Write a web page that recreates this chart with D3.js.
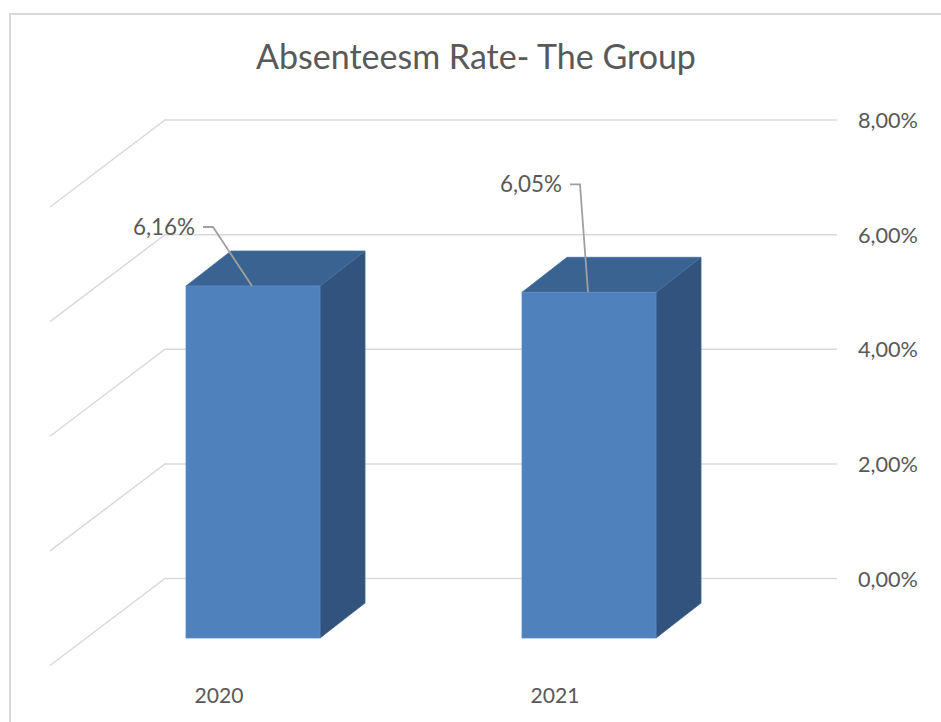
<!DOCTYPE html>
<html>
<head>
<meta charset="utf-8">
<script src="https://cdn.jsdelivr.net/npm/d3@7"></script>
<style>
  html, body { margin: 0; padding: 0; background: #fff; }
  svg { display: block; }
  text { font-family: Lato, "Open Sans", sans-serif; fill: #595959; }
</style>
</head>
<body>
<svg id="chart" width="941" height="722"></svg>
<script>
// ---- data ----
const title = "Absenteesm Rate- The Group";
const categories = ["2020", "2021"];
const values = [6.16, 6.05];          // percent
const valueLabels = ["6,16%", "6,05%"];
const yTicks = [0, 2, 4, 6, 8];
const yTickLabels = ["0,00%", "2,00%", "4,00%", "6,00%", "8,00%"];

// ---- layout ----
const svg = d3.select("#chart");
const W = 941, H = 722;

// chart border (top and left only visible)
svg.append("path")
  .attr("d", `M10,${H} L10,14 L${W},14`)
  .attr("fill", "none").attr("stroke", "#d9d9d9").attr("stroke-width", 2);

function fitText(sel, targetWidth, startSize) {
  sel.style("font-size", startSize + "px");
  const w = sel.node().getComputedTextLength();
  sel.style("font-size", (startSize * targetWidth / w) + "px");
}

// title
const t = svg.append("text").attr("x", 476).attr("y", 69)
  .attr("text-anchor", "middle").text(title);
fitText(t, 440, 32);

// back wall scale
const yWall = d3.scaleLinear().domain([0, 8]).range([578.5, 120]);
const wallX0 = 165, wallX1 = 837;
const sideDx = -115, sideDy = 87;

// gridlines: back wall + side wall
const grid = svg.append("g").attr("stroke", "#d9d9d9").attr("stroke-width", 1.5).attr("fill", "none");
grid.selectAll("path").data(yTicks).join("path")
  .attr("d", d => {
    const y = yWall(d);
    return `M${wallX0 + sideDx},${y + sideDy} L${wallX0},${y} L${wallX1},${y}`;
  });

// y axis labels (right)
svg.append("g").selectAll("text").data(yTicks).join("text")
  .attr("x", 858).attr("y", d => yWall(d) + 8)
  .text((d, i) => yTickLabels[i])
  .each(function () { fitText(d3.select(this), 60, 20); });

// bars (front-face scale)
const yFront = d3.scaleLinear().domain([0, 8]).range([638, 638 - 8 * 57.14]);
const xCenter = d3.scalePoint().domain(categories).range([253, 589]);
const barW = 134, dDx = 45, dDy = -35;

const bars = svg.append("g");
categories.forEach((c, i) => {
  const xl = xCenter(c) - barW / 2, xr = xCenter(c) + barW / 2;
  const yt = yFront(values[i]), yb = yFront(0);
  const g = bars.append("g");
  // side face
  g.append("path")
    .attr("d", `M${xr},${yt} L${xr + dDx},${yt + dDy} L${xr + dDx},${yb + dDy} L${xr},${yb} Z`)
    .attr("fill", "#31537d").attr("stroke", "#3d6494").attr("stroke-width", 0.8);
  // top face
  g.append("path")
    .attr("d", `M${xl},${yt} L${xl + dDx},${yt + dDy} L${xr + dDx},${yt + dDy} L${xr},${yt} Z`)
    .attr("fill", "#3a6391").attr("stroke", "#4671a3").attr("stroke-width", 0.8);
  // front face
  g.append("rect")
    .attr("x", xl).attr("y", yt).attr("width", barW).attr("height", yb - yt)
    .attr("fill", "#4f81bd").attr("stroke", "#5a8bc6").attr("stroke-width", 0.8);
});

// category labels
svg.append("g").selectAll("text").data(categories).join("text")
  .attr("x", d => xCenter(d) - 34).attr("y", 703)
  .attr("text-anchor", "middle").text(d => d)
  .each(function () { fitText(d3.select(this), 49, 20); });

// data labels with leader lines (manual Excel placement offsets)
const labelOffsets = [{ dx: -40, dy: -59 }, { dx: -9, dy: -108 }];
categories.forEach((c, i) => {
  const ax = xCenter(c), ay = yFront(values[i]);
  const lx = ax + labelOffsets[i].dx, ly = ay + labelOffsets[i].dy;
  svg.append("path")
    .attr("d", `M${lx - 10},${ly} L${lx},${ly} L${ax - 1},${ay}`)
    .attr("fill", "none").attr("stroke", "#a0a0a0").attr("stroke-width", 1.8);
  const txt = svg.append("text").attr("x", lx - 18).attr("y", ly + 7.5)
    .attr("text-anchor", "end").text(valueLabels[i]);
  fitText(txt, 62, 20);
});
</script>
</body>
</html>
